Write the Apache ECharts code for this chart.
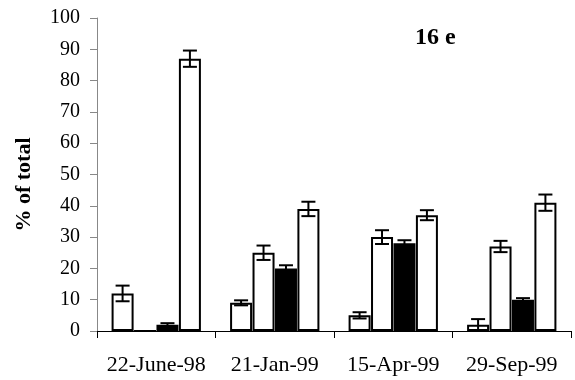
<!DOCTYPE html>
<html>
<head>
<meta charset="utf-8">
<script src="https://cdn.jsdelivr.net/npm/echarts@6/dist/echarts.min.js"></script>
<style>
  html, body { margin: 0; padding: 0; background: #fff; }
  #chart { width: 575px; height: 380px; }
</style>
</head>
<body>
<div id="chart"></div>
<script>
// Sampling dates
const categories = ['22-June-98', '21-Jan-99', '15-Apr-99', '29-Sep-99'];

// Percentage of total for each fraction (bars left to right in each group)
const fractionA = [12, 9, 5, 2];
const fractionB = [0, 25, 30, 27];
const fractionC = [2, 20, 28, 10];   // drawn in black
const fractionD = [87, 39, 37, 41];

// Half-widths of the error bars
const errA = [2.5, 0.8, 1.0, 1.8];
const errB = [0, 2.3, 2.2, 1.8];
const errC = [0.5, 1.0, 1.0, 0.5];
const errD = [2.6, 2.3, 1.6, 2.6];

const yTicks = { min: 0, max: 100, interval: 10 };

const BAR_W = 22;
const BAR_GAP = 0.02;
const serif = '"Liberation Serif", "DejaVu Serif", serif';

const groups = [
  { values: fractionA, errs: errA, fill: '#ffffff' },
  { values: fractionB, errs: errB, fill: '#ffffff' },
  { values: fractionC, errs: errC, fill: '#000000' },
  { values: fractionD, errs: errD, fill: '#ffffff' }
];

const step = BAR_W * (1 + BAR_GAP);

function errorSeries(g, idx) {
  const offset = (idx - (groups.length - 1) / 2) * step;
  return {
    type: 'custom',
    z: 5,
    silent: true,
    data: g.values.map((v, i) => [i, v, g.errs[i]]),
    renderItem: function (params, api) {
      const cat = api.value(0);
      const v = api.value(1);
      const e = api.value(2);
      if (!e) return null;
      const top = api.coord([cat, v + e]);
      const bot = api.coord([cat, v - e]);
      const x = top[0] + offset;
      const cap = 7;
      const style = { stroke: '#000', lineWidth: 2, fill: null };
      return {
        type: 'group',
        children: [
          { type: 'line', shape: { x1: x, y1: top[1], x2: x, y2: bot[1] }, style: style },
          { type: 'line', shape: { x1: x - cap, y1: top[1], x2: x + cap, y2: top[1] }, style: style },
          { type: 'line', shape: { x1: x - cap, y1: bot[1], x2: x + cap, y2: bot[1] }, style: style }
        ]
      };
    }
  };
}

const barSeries = groups.map(g => ({
  type: 'bar',
  data: g.values,
  barWidth: BAR_W,
  barGap: (BAR_GAP * 100) + '%',
  itemStyle: { color: g.fill, borderColor: '#000', borderWidth: 2 },
  z: 2
}));

const chart = echarts.init(document.getElementById('chart'), null, { renderer: 'canvas' });
chart.setOption({
  animation: false,
  backgroundColor: '#fff',
  title: {
    text: '16 e',
    left: 410,
    top: 21,
    textStyle: { fontFamily: serif, fontWeight: 'bold', fontSize: 24, color: '#000' }
  },
  grid: { left: 97, right: 4, top: 18, bottom: 49 },
  xAxis: {
    type: 'category',
    data: categories,
    axisLine: { lineStyle: { color: '#000', width: 1 } },
    axisTick: { show: true, length: 7, lineStyle: { color: '#000' } },
    axisLabel: { interval: 0, fontFamily: serif, fontSize: 22, color: '#000', margin: 23 }
  },
  yAxis: {
    type: 'value',
    min: yTicks.min,
    max: yTicks.max,
    interval: yTicks.interval,
    name: '% of total',
    nameLocation: 'middle',
    nameGap: 62,
    nameTextStyle: { fontFamily: serif, fontWeight: 'bold', fontSize: 22, color: '#000', padding: [0, 20, 0, 0] },
    axisLine: { show: true, lineStyle: { color: '#888', width: 1 } },
    axisTick: { show: true, length: 7, lineStyle: { color: '#888' } },
    axisLabel: { fontFamily: serif, fontSize: 20, color: '#000', margin: 17 },
    splitLine: { show: false }
  },
  series: barSeries.concat(groups.map(errorSeries))
});
</script>
</body>
</html>
